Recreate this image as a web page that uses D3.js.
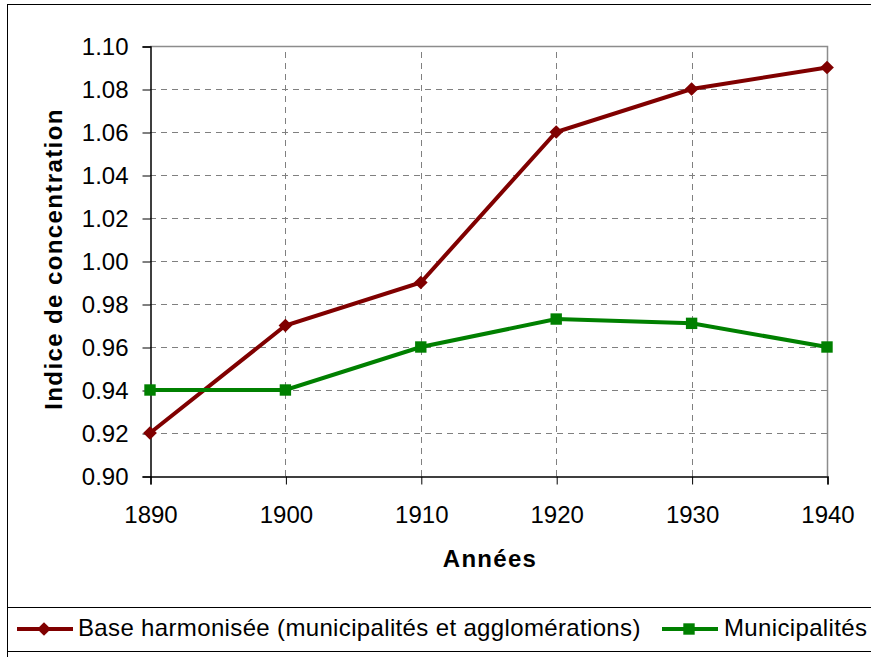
<!DOCTYPE html>
<html>
<head>
<meta charset="utf-8">
<script src="https://cdn.jsdelivr.net/npm/d3@7"></script>
<style>
  body { margin: 0; background: #fff; }
  svg { display: block; font-family: "Liberation Sans", Arial, sans-serif; }
</style>
</head>
<body>
<div id="chart"></div>
<script>
// chart data
const years = [1890, 1900, 1910, 1920, 1930, 1940];
const baseHarmonisee = [0.92, 0.97, 0.99, 1.06, 1.08, 1.09];
const municipalites = [0.94, 0.94, 0.96, 0.973, 0.971, 0.96];
const yTicks = [0.90, 0.92, 0.94, 0.96, 0.98, 1.00, 1.02, 1.04, 1.06, 1.08, 1.10];
const seriesNames = ["Base harmonisée (municipalités et agglomérations)", "Municipalités"];

const width = 871, height = 657;
const margin = {top: 46, right: 44, bottom: 181, left: 150};

const svg = d3.select("#chart").append("svg")
  .attr("width", width)
  .attr("height", height);

// outer frame (runs off the right edge like the original)
svg.append("rect")
  .attr("x", 7.5).attr("y", 4.5)
  .attr("width", 880).attr("height", 700)
  .attr("fill", "none").attr("stroke", "#000").attr("stroke-width", 1);

const x = d3.scaleLinear()
  .domain([1890, 1940])
  .range([margin.left, width - margin.right]);

const y = d3.scaleLinear()
  .domain([0.90, 1.10])
  .range([height - margin.bottom, margin.top]);

// grid
const grid = svg.append("g")
  .attr("stroke", "#808080")
  .attr("stroke-dasharray", "6,5")
  .attr("stroke-width", 1);
grid.selectAll("line.h")
  .data(yTicks.slice(1, -1))
  .join("line")
  .attr("class", "h")
  .attr("x1", x(1890)).attr("x2", x(1940))
  .attr("y1", d => Math.round(y(d)) + 0.5).attr("y2", d => Math.round(y(d)) + 0.5);
grid.selectAll("line.v")
  .data(years.slice(1, -1))
  .join("line")
  .attr("class", "v")
  .attr("y1", y(0.90)).attr("y2", y(1.10))
  .attr("x1", d => Math.round(x(d)) + 0.5).attr("x2", d => Math.round(x(d)) + 0.5);

// top + right plot border (grey)
svg.append("path")
  .attr("d", `M${x(1890)},${y(1.10) + 0.5}H${x(1940) + 0.5}V${y(0.90)}`)
  .attr("fill", "none")
  .attr("stroke", "#8c8c8c")
  .attr("stroke-width", 1.5);

// axes
const xAxis = svg.append("g")
  .attr("transform", `translate(0.5,${y(0.90) + 0.5})`)
  .call(d3.axisBottom(x).tickValues(years).tickFormat(d3.format("d")).tickSize(8).tickPadding(21));
const yAxis = svg.append("g")
  .attr("transform", `translate(${x(1890) + 0.5},0.5)`)
  .call(d3.axisLeft(y).tickValues(yTicks).tickFormat(d3.format(".2f")).tickSize(8).tickPadding(14));

[xAxis, yAxis].forEach(g => {
  g.select(".domain").attr("stroke", "#000").attr("stroke-width", 1.5);
  g.selectAll(".tick line").attr("stroke", "#000");
  g.selectAll(".tick text")
    .attr("fill", "#000")
    .style("font-size", "24px")
    .style("font-family", "'Liberation Sans', Arial, sans-serif");
});

// axis titles
svg.append("text")
  .attr("x", 490).attr("y", 567)
  .attr("text-anchor", "middle")
  .style("font-size", "24px").style("font-weight", "bold")
  .style("letter-spacing", "1.3px")
  .text("Années");
svg.append("text")
  .attr("transform", "translate(62,259) rotate(-90)")
  .attr("text-anchor", "middle")
  .style("font-size", "24px").style("font-weight", "bold")
  .style("letter-spacing", "1.4px")
  .text("Indice de concentration");

// series
const series = [
  {name: seriesNames[0], values: baseHarmonisee, color: "#800000", symbol: d3.symbolDiamond2, size: 120},
  {name: seriesNames[1], values: municipalites, color: "#008000", symbol: d3.symbolSquare, size: 130}
];

const line = d3.line()
  .x((d, i) => x(years[i]))
  .y(d => y(d));

series.forEach(s => {
  svg.append("path")
    .datum(s.values)
    .attr("fill", "none")
    .attr("stroke", s.color)
    .attr("stroke-width", 4)
    .attr("d", line);
  svg.append("g").selectAll("path")
    .data(s.values)
    .join("path")
    .attr("transform", (d, i) => `translate(${x(years[i])},${y(d)})`)
    .attr("d", d3.symbol().type(s.symbol).size(s.size))
    .attr("fill", s.color);
});

// legend box
svg.append("rect")
  .attr("x", 7.5).attr("y", 607.5)
  .attr("width", 880).attr("height", 44)
  .attr("fill", "#fff").attr("stroke", "#000").attr("stroke-width", 1);

const legendPos = [{x0: 17, tx: 78}, {x0: 662, tx: 724}];
series.forEach((s, i) => {
  const g = svg.append("g").attr("transform", `translate(${legendPos[i].x0},629)`);
  g.append("line")
    .attr("x1", 0).attr("x2", 56)
    .attr("stroke", s.color).attr("stroke-width", 4);
  g.append("path")
    .attr("transform", "translate(27,0)")
    .attr("d", d3.symbol().type(s.symbol).size(s.size))
    .attr("fill", s.color);
  svg.append("text")
    .attr("x", legendPos[i].tx).attr("y", 636)
    .style("font-size", "24px")
    .style("letter-spacing", "0.35px")
    .text(s.name);
});
</script>
</body>
</html>
